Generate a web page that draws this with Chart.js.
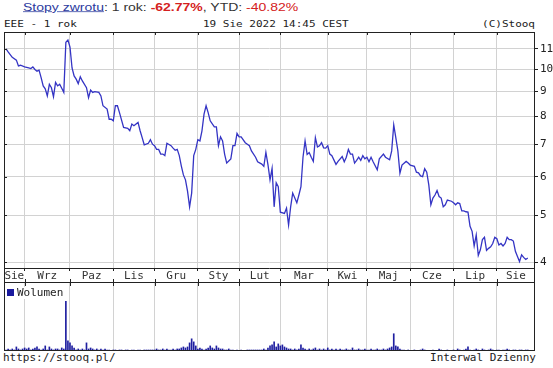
<!DOCTYPE html>
<html>
<head>
<meta charset="utf-8">
<script src="https://cdn.jsdelivr.net/npm/chart.js@4/dist/chart.umd.min.js"></script>
<style>
  body { margin: 0; background: #fff; width: 553px; height: 368px; position: relative; overflow: hidden;
         font-family: "DejaVu Sans Mono", monospace; font-size: 11px; color: #222; }
  .abs { position: absolute; white-space: nowrap; }
  #returns { left: 23px; top: 1px; font-family: "Liberation Sans", Arial, sans-serif; font-size: 14px; color: #333;
             transform: scaleY(0.74); transform-origin: 0 0; }
  #returns a { color: #2b3a9e; text-decoration: underline; }
  #returns .neg { color: #d42020; }
  #head { left: 4px; top: 19px; width: 531px; height: 13px; line-height: 13px;
          transform: scaleY(0.83); transform-origin: 0 0; }
  #head .date { position: absolute; left: 199px; }
  #head .copy { position: absolute; right: 0; }
  #priceBox { left: 0; top: 0; }
  #volBox { left: 0; top: 283px; }
  #volLegend { left: 7px; top: 287px; line-height: 12px; background: #fff; }
  #volLegend i { display: inline-block; width: 7px; height: 7px; background: #1a1a9e; margin-right: 3px; vertical-align: 0; }
  #foot { left: 3px; top: 352px; width: 533px; line-height: 13px; transform: scaleY(0.88); transform-origin: 0 0; }
  #foot .right { position: absolute; right: 0; }
</style>
</head>
<body>
<div id="returns" class="abs"><a>Stopy zwrotu</a>: 1 rok: <b class="neg">-62.77%</b>, YTD: <span class="neg">-40.82%</span></div>
<div id="head" class="abs">EEE - 1 rok<span class="date">19 Sie 2022 14:45 CEST</span><span class="copy">(C)Stooq</span></div>
<div id="priceBox" class="abs"><canvas id="priceChart" width="553" height="283"></canvas></div>
<div id="volBox" class="abs"><canvas id="volChart" width="553" height="68"></canvas></div>
<div id="volLegend" class="abs"><i></i>Wolumen</div>
<div id="foot" class="abs">https://stooq.pl/<span class="right">Interwal Dzienny</span></div>

<script>
// x = session number, 0 = 19 Aug 2021
const monthLabels = ['Sie', 'Wrz', 'Paz', 'Lis', 'Gru', 'Sty', 'Lut', 'Mar', 'Kwi', 'Maj', 'Cze', 'Lip', 'Sie'];
const monthStarts = [9, 31, 52, 72, 93, 113, 133, 156, 175, 196, 217, 238];
const priceTicks = [4, 5, 6, 7, 8, 9, 10, 11];

const priceDay = [
  0, 1, 3, 5, 6, 7, 9, 11, 12, 13, 14, 15, 16, 17, 18, 19, 20, 21, 22, 23, 24, 25, 26, 27, 28, 29,
  30, 31, 32, 33, 34, 35, 36, 37, 39, 40, 41, 42, 43, 45, 46, 47, 49, 50, 51, 52, 53, 54, 55, 57,
  59, 60, 61, 62, 64, 65, 66, 67, 69, 70, 71, 72, 73, 74, 75, 76, 77, 78, 80, 81, 82, 83, 84, 85,
  86, 87, 88, 89, 90, 91, 92, 93, 94, 95, 96, 97, 98, 99, 101, 102, 103, 104, 105, 106, 107, 109,
  110, 111, 112, 113, 114, 116, 117, 118, 119, 121, 122, 124, 125, 126, 127, 128, 129, 130, 131,
  132, 133, 135, 136, 137, 138, 139, 141, 142, 143, 144, 145, 146, 147, 148, 149, 150, 151, 152,
  153, 154, 155, 156, 157, 158, 160, 161, 163, 164, 165, 166, 167, 168, 169, 170, 171, 172, 173,
  174, 175, 176, 177, 178, 180, 181, 183, 184, 186, 187, 188, 189, 190, 191, 192, 194, 195, 196,
  198, 199, 200, 201, 202, 203, 204, 205, 206, 207, 208, 209, 210, 211, 212, 213, 214, 216, 217,
  218, 219, 220, 221, 222, 223, 224, 225, 226, 227, 228, 229, 230, 231, 232, 233, 234, 235, 236,
  237, 238, 239, 240, 241, 242, 243, 244, 245, 246, 247, 248, 249, 250, 251, 252, 253
];
const priceClose = [
  11.0, 10.85, 10.57, 10.43, 10.15, 10.18, 10.1, 10.05, 10.02, 10.1, 9.98, 9.9, 9.95, 9.6, 9.23, 9.1,
  8.8, 9.3, 9.15, 8.77, 9.38, 9.23, 9.3, 9.13, 8.95, 11.35,
  11.47, 11.1, 10.05, 9.68, 9.53, 9.33, 9.64, 9.45, 9.15, 8.73, 9.05, 8.95, 8.98, 8.95, 8.8, 8.4,
  8.27, 7.88, 7.88, 7.82, 8.4, 8.4, 8.13, 7.58,
  7.55, 7.46, 7.7, 7.64, 7.76, 7.46, 7.22, 6.98, 7.03, 7.15, 7.0, 6.95, 6.83, 6.83, 6.68, 6.68,
  6.63, 7.03, 6.95, 6.87, 6.8, 6.83, 6.63, 6.31,
  6.05, 5.91, 5.6, 5.2, 5.55, 6.63, 6.83, 7.15, 7.11, 7.46, 8.07, 8.4, 8.13, 7.82, 7.6, 7.6, 6.95,
  7.25, 7.11, 6.67, 6.4, 6.53,
  6.95, 6.95, 7.37, 7.25, 7.25, 7.05, 7.0, 6.95, 6.78, 6.58, 6.44, 6.37, 6.3, 6.73, 6.35, 5.91,
  6.24, 5.2, 5.83,
  5.72, 5.07, 5.04, 5.17, 4.77, 5.2, 5.55, 5.3, 5.5, 5.72, 6.58, 7.11, 6.67, 6.73, 6.58, 6.45,
  7.22, 6.91, 6.95,
  7.05, 6.88, 6.87, 6.95, 6.68, 6.63, 6.36, 6.45, 6.6, 6.44, 6.58, 6.83, 6.68, 6.68, 6.4, 6.48,
  6.58, 6.48, 6.63,
  6.53, 6.58, 6.44, 6.58, 6.44, 6.2, 6.53, 6.68, 6.58, 6.5, 6.78, 7.67, 7.22, 6.78, 6.1, 6.34,
  6.45, 6.4, 6.34,
  6.3, 6.13, 6.11, 6.02, 6.0, 6.23, 6.13, 5.77, 5.25, 5.42, 5.5, 5.62, 5.46, 5.42, 5.2, 5.25,
  5.37, 5.34, 5.3,
  5.25, 5.3, 5.28, 5.1, 5.1, 5.08, 5.07, 4.74, 4.63, 4.32, 4.55, 4.13, 4.24, 4.45, 4.5, 4.23,
  4.27, 4.3, 4.37,
  4.5, 4.47, 4.34, 4.37, 4.32, 4.37, 4.5, 4.45, 4.45, 4.42, 4.21, 4.11, 4.01, 4.14, 4.09, 4.05, 4.08
];

// volume per session, thousands of shares
const volume = [
  10, 20, 10, 20, 10, 40, 20, 10, 20, 30,
  20, 30, 10, 20, 30, 40, 20, 10, 20, 50,
  10, 40, 20, 10, 20, 20, 10, 30, 20, 490,
  100, 80, 50, 30, 10, 20, 10, 20, 10, 80,
  20, 30, 20, 10, 20, 10, 20, 10, 20, 10,
  10, 0, 10, 10, 0, 10, 10, 0, 10, 10,
  0, 10, 10, 0, 10, 10, 0, 10, 10, 10,
  10, 10, 10, 20, 10, 10, 20, 10, 20, 10,
  10, 20, 10, 20, 20, 30, 40, 30, 40, 80,
  120, 90, 50, 20, 30, 20, 10, 20, 30, 50,
  30, 20, 50, 30, 20, 20, 10, 10, 20, 10,
  10, 0, 10, 0, 10, 0, 0, 10, 10, 10,
  10, 10, 10, 10, 10, 20, 10, 30, 50, 60,
  90, 40, 70, 50, 60, 40, 30, 20, 20, 10,
  20, 10, 20, 60, 30, 20, 10, 20, 10, 20,
  30, 10, 20, 10, 20, 10, 30, 10, 20, 10,
  20, 10, 20, 10, 10, 20, 10, 10, 30, 10,
  10, 20, 10, 10, 20, 10, 10, 20, 10, 10,
  20, 10, 10, 20, 10, 20, 30, 40, 170, 50,
  40, 20, 10, 10, 0, 10, 0, 0, 10, 0,
  0, 10, 20, 10, 0, 0, 0, 10, 0, 0,
  20, 10, 0, 0, 10, 0, 0, 10, 0, 20,
  10, 0, 10, 20, 40, 10, 0, 10, 20, 10,
  0, 20, 10, 0, 10, 20, 10, 0, 10, 10,
  0, 10, 10, 20, 10, 0, 10, 10, 0, 10,
  10, 0, 10, 10
];

const X_MIN = -1, X_MAX = 256.5;
const MONO = '"DejaVu Sans Mono", monospace';
const GRID = '#d2d2d2';
const FRAME = '#222';

// month names sit in the middle of each month
const edges = [X_MIN, ...monthStarts, X_MAX];
const monthMid = new Map();
monthLabels.forEach((m, i) => monthMid.set((edges[i] + edges[i + 1]) / 2, m));

const isStart = v => monthStarts.includes(v);

function line(ctx, x1, y1, x2, y2) {
  ctx.beginPath();
  ctx.moveTo(x1, y1);
  ctx.lineTo(x2, y2);
  ctx.stroke();
}

const priceFrame = {
  id: 'priceFrame',
  afterDraw(chart) {
    const { ctx, chartArea: a, scales } = chart;
    ctx.save();
    ctx.strokeStyle = FRAME;
    ctx.lineWidth = 1;
    ctx.strokeRect(a.left + 0.5, a.top + 0.5, a.right - a.left - 1, chart.height - a.top - 1);
    line(ctx, a.left, a.bottom + 0.5, a.right, a.bottom + 0.5);
    monthStarts.forEach(m => {
      const x = Math.round(scales.x.getPixelForValue(m)) + 0.5;
      line(ctx, x, a.top, x, a.top + 3);
      line(ctx, x, chart.height - 4, x, chart.height);
    });
    priceTicks.forEach(t => {
      const y = Math.round(scales.y.getPixelForValue(t)) + 0.5;
      line(ctx, a.left, y, a.left + 3, y);
    });
    ctx.restore();
  }
};

const volFrame = {
  id: 'volFrame',
  afterDraw(chart) {
    const { ctx, chartArea: a, scales } = chart;
    ctx.save();
    ctx.strokeStyle = FRAME;
    ctx.lineWidth = 1;
    line(ctx, a.left + 0.5, 0, a.left + 0.5, a.bottom);
    line(ctx, a.right - 0.5, 0, a.right - 0.5, a.bottom);
    line(ctx, a.left, a.bottom - 0.5, a.right, a.bottom - 0.5);
    monthStarts.forEach(m => {
      const x = Math.round(scales.x.getPixelForValue(m)) + 0.5;
      line(ctx, x, 0, x, 3);
    });
    ctx.restore();
  }
};

Chart.defaults.animation = false;

new Chart(document.getElementById('priceChart'), {
  type: 'line',
  data: {
    datasets: [{
      data: priceDay.map((d, i) => ({ x: d, y: priceClose[i] })),
      borderColor: '#3434c4',
      borderWidth: 1.3,
      pointRadius: 0,
      tension: 0
    }]
  },
  options: {
    responsive: false,
    layout: { padding: { left: 4, right: 0, top: 32, bottom: 0 } },
    plugins: { legend: { display: false }, tooltip: { enabled: false } },
    scales: {
      x: {
        type: 'linear',
        min: X_MIN,
        max: X_MAX,
        bounds: 'data',
        afterBuildTicks: s => {
          s.ticks = [...monthStarts, ...monthMid.keys()].sort((a, b) => a - b).map(v => ({ value: v }));
        },
        afterFit: s => { s.height = 15; },
        border: { display: false },
        grid: {
          color: c => (c.tick && isStart(c.tick.value) ? GRID : 'rgba(0,0,0,0)'),
          tickColor: c => (c.tick && isStart(c.tick.value) ? FRAME : 'rgba(0,0,0,0)'),
          tickLength: 3,
          lineWidth: 1
        },
        ticks: {
          autoSkip: false,
          maxRotation: 0,
          padding: -1,
          color: '#333',
          font: { family: MONO, size: 11 },
          callback: v => monthMid.get(v) || ''
        }
      },
      y: {
        type: 'logarithmic',
        position: 'right',
        min: 3.89,
        max: 11.92,
        bounds: 'data',
        afterBuildTicks: s => { s.ticks = priceTicks.map(v => ({ value: v })); },
        afterFit: s => { s.width = 18; },
        border: { display: false },
        grid: { color: GRID, tickColor: FRAME, tickLength: 3 },
        ticks: {
          padding: 2,
          color: '#222',
          font: { family: MONO, size: 11 },
          callback: v => String(v)
        }
      }
    }
  },
  plugins: [priceFrame]
});

new Chart(document.getElementById('volChart'), {
  type: 'bar',
  data: {
    datasets: [{
      data: volume.map((v, i) => ({ x: i, y: v })),
      backgroundColor: '#1f1fa0',
      barThickness: 1
    }]
  },
  options: {
    responsive: false,
    layout: { padding: { left: 4, right: 18, top: 0, bottom: 0 } },
    plugins: { legend: { display: false }, tooltip: { enabled: false } },
    scales: {
      x: {
        type: 'linear',
        min: X_MIN,
        max: X_MAX,
        bounds: 'data',
        offset: false,
        afterBuildTicks: s => { s.ticks = monthStarts.map(v => ({ value: v })); },
        afterFit: s => { s.height = 0; },
        border: { display: false },
        grid: { color: GRID, drawTicks: false, offset: false },
        ticks: { display: false }
      },
      y: {
        display: false,
        min: 0,
        max: 670
      }
    }
  },
  plugins: [volFrame]
});
</script>
</body>
</html>
